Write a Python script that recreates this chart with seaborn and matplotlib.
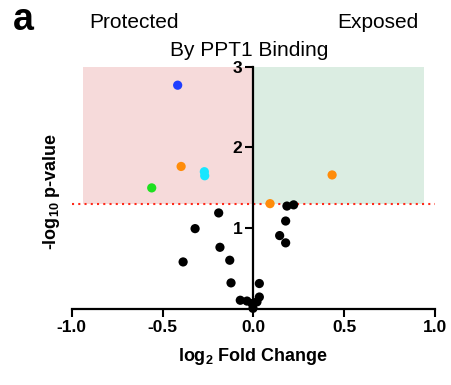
import matplotlib
matplotlib.use("Agg")
import matplotlib.pyplot as plt
import seaborn as sns
import pandas as pd

# log2 fold change and -log10 p-value
fold_change = [-0.417, -0.398, -0.270, -0.268, -0.560, 0.434, 0.092,
               0.185, 0.222, 0.178, 0.145, 0.178,
               -0.191, -0.321, -0.184, -0.130, -0.387, -0.123, 0.033,
               -0.072, -0.035, -0.007, 0.033, 0.020, -0.002]
neg_log_p = [2.77, 1.765, 1.70, 1.65, 1.50, 1.66, 1.305,
             1.275, 1.29, 1.09, 0.91, 0.82,
             1.19, 0.996, 0.765, 0.605, 0.584, 0.325, 0.317,
             0.11, 0.10, 0.07, 0.15, 0.09, 0.01]
group = ["blue", "orange", "cyan", "cyan", "green", "orange", "orange"] + ["ns"] * 18

palette = {"blue": "#1f3dff", "orange": "#ff8c0a", "cyan": "#18e6ff",
           "green": "#1fe01f", "ns": "black"}

threshold = 1.301  # -log10(0.05)

df = pd.DataFrame({"fc": fold_change, "p": neg_log_p, "group": group})

sns.set_style("ticks", {"axes.edgecolor": "black", "xtick.color": "black",
                        "ytick.color": "black", "text.color": "black",
                        "axes.labelcolor": "black"})
plt.rcParams["font.family"] = ["Liberation Sans", "DejaVu Sans"]
plt.rcParams["mathtext.fontset"] = "custom"
plt.rcParams["mathtext.bf"] = "Liberation Sans:bold"
plt.rcParams["mathtext.rm"] = "Liberation Sans"
plt.rcParams["mathtext.default"] = "bf"

fig = plt.figure(figsize=(4.52, 3.85), dpi=100)
ax = fig.add_axes([0.159, 0.197, 0.803, 0.630])

# shaded regions
ax.fill_between([-0.94, 0], threshold, 3, color="#f6dada", lw=0, zorder=0)
ax.fill_between([0, 0.94], threshold, 3, color="#dbede2", lw=0, zorder=0)
ax.plot([-1, 1], [threshold, threshold], color="#ff2a1a", lw=1.5,
        ls=(0, (1, 2)), zorder=1, clip_on=False)

sns.scatterplot(data=df, x="fc", y="p", hue="group", palette=palette,
                s=44, edgecolor="none", legend=False, ax=ax, zorder=3,
                clip_on=False)

ax.set_xlim(-1, 1)
ax.set_ylim(0, 3)
ax.set_xticks([-1.0, -0.5, 0.0, 0.5, 1.0])
ax.set_xticklabels(["-1.0", "-0.5", "0.0", "0.5", "1.0"])
ax.set_yticks([1, 2, 3])
ax.spines["left"].set_position(("data", 0))
ax.spines["right"].set_visible(False)
ax.spines["top"].set_visible(False)
for s in ["left", "bottom"]:
    ax.spines[s].set_linewidth(1.6)
ax.tick_params(axis="both", width=1.5, length=6, labelsize=12.5, pad=2)
for lab in ax.get_xticklabels() + ax.get_yticklabels():
    lab.set_fontweight("bold")

ax.set_ylabel("")
ax.set_xlabel("log$_2$ Fold Change", fontsize=13, fontweight="bold", labelpad=8)
fig.text(52 / 452, 1 - 191 / 385, "-log$_{10}$ p-value", rotation=90,
         fontsize=13, fontweight="bold", ha="center", va="center")

fig.text(134 / 452, 1 - 22 / 385, "Protected", fontsize=15,
         ha="center", va="center")
fig.text(378 / 452, 1 - 22 / 385, "Exposed", fontsize=15,
         ha="center", va="center")
fig.text(249 / 452, 1 - 50 / 385, "By PPT1 Binding", fontsize=15,
         ha="center", va="center")
fig.text(23 / 452, 1 - 20 / 385, "a", fontsize=27, fontweight="bold",
         ha="center", va="center")

fig.savefig("out.png", dpi=100)
